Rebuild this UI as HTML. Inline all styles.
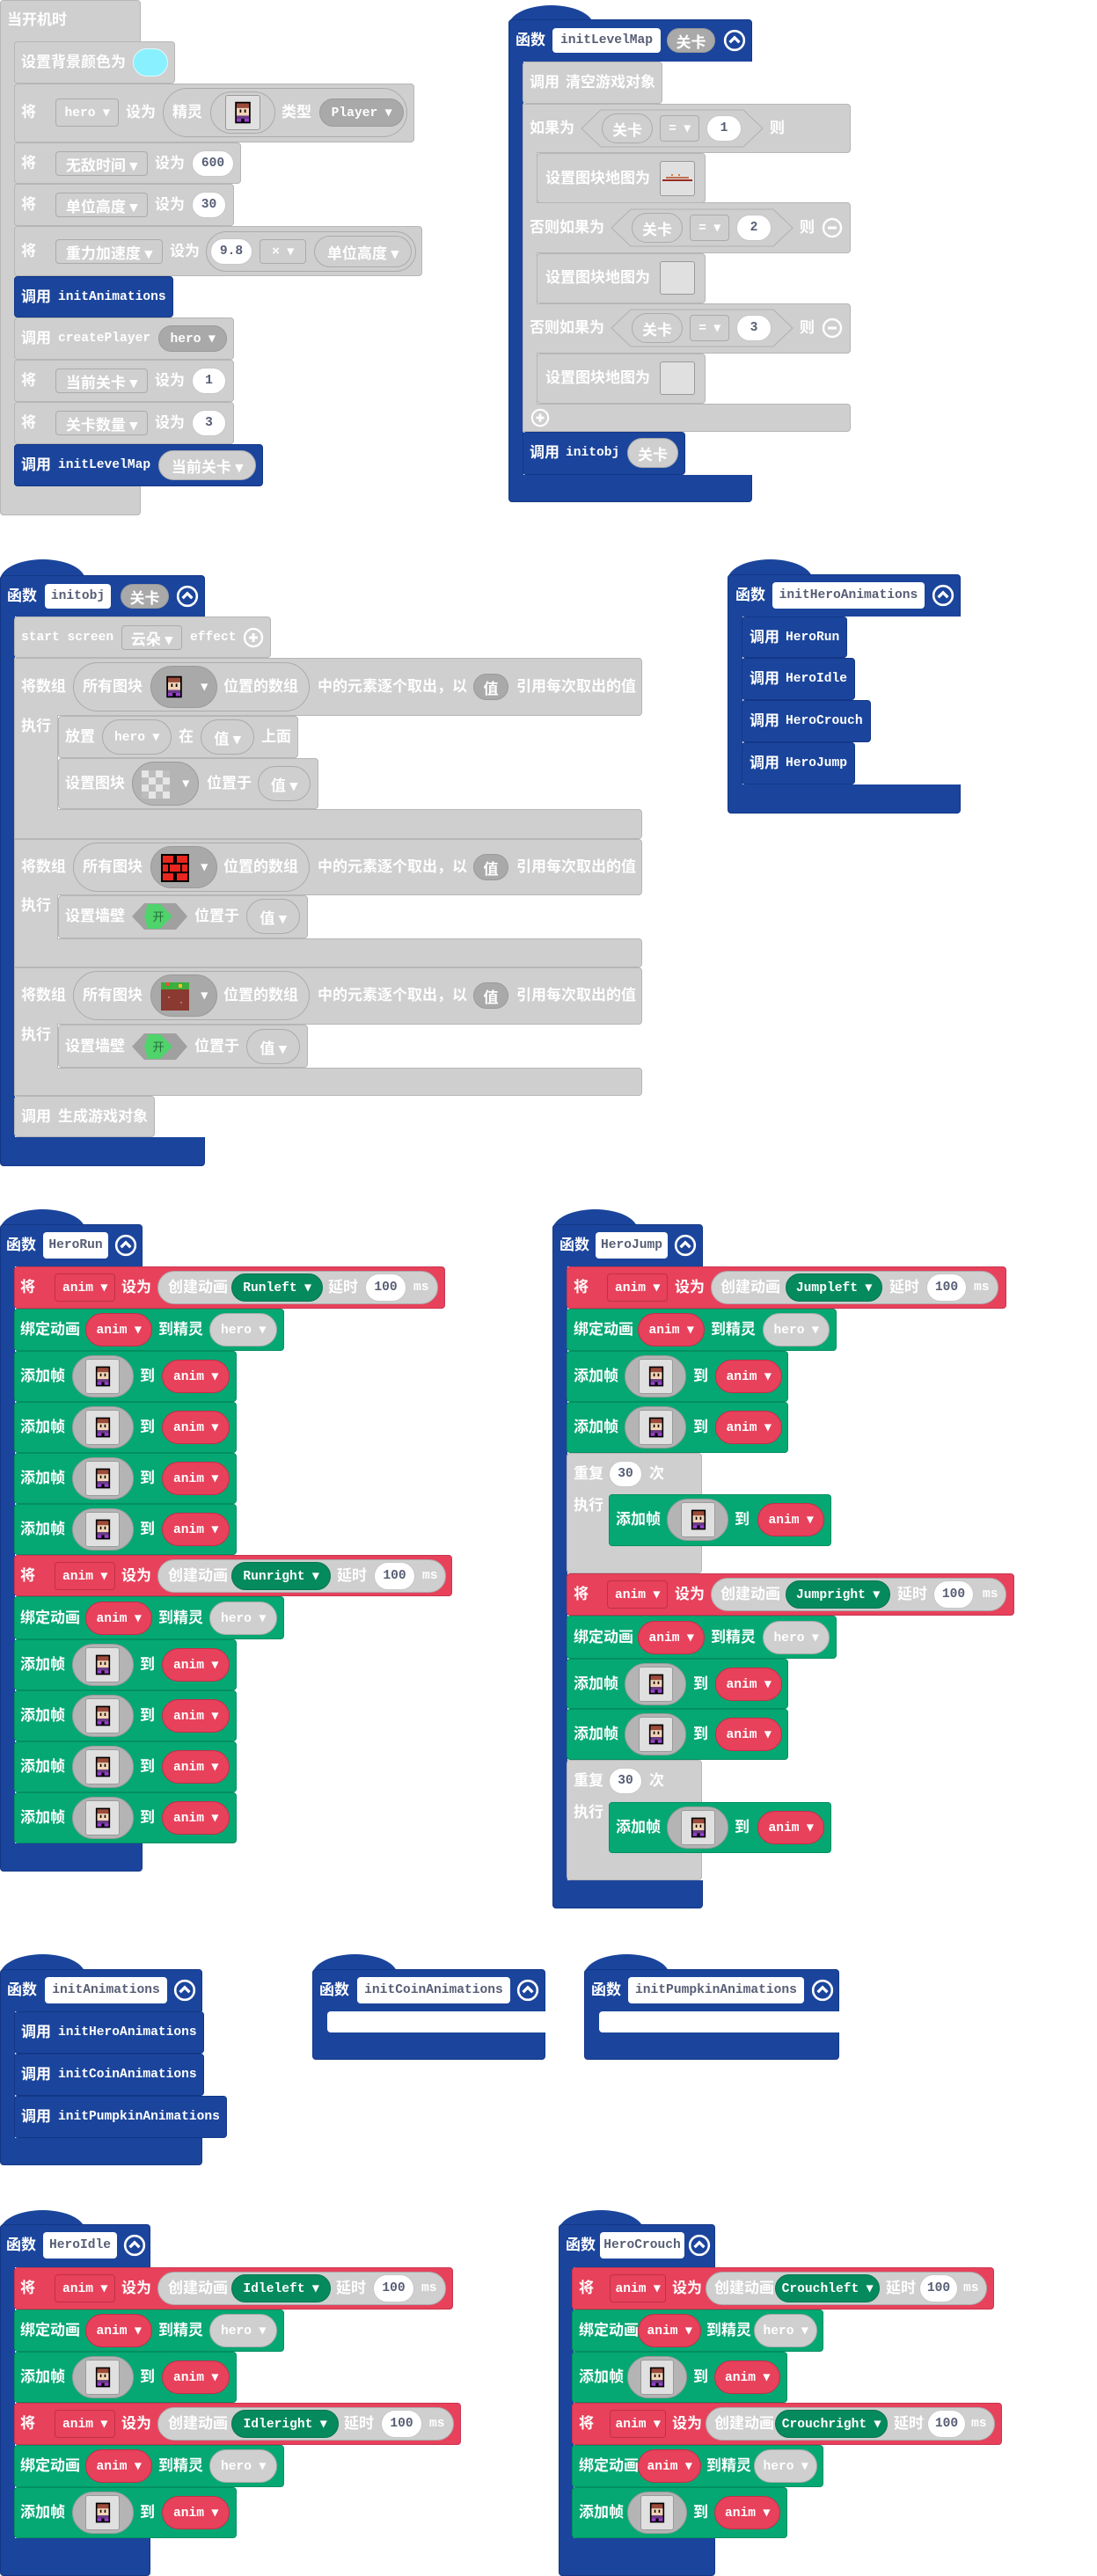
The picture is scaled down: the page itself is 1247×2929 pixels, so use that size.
<!DOCTYPE html>
<html><head><meta charset="utf-8">
<style>
body{margin:0;width:1247px;height:2918px;position:relative;background:#fff;overflow:hidden}
.a{position:absolute;box-sizing:border-box}
.g{background:#cfcfcf;border:1px solid #b6b6b6;border-radius:4px}
.b{background:#1b459c;border:1px solid #123787;border-radius:4px}
.rd{background:#e8415b;border:1px solid #c93550;border-radius:4px}
.gn{background:#05a873;border:1px solid #038f60;border-radius:4px}
.hat{position:absolute;background:#1b459c;border-radius:50% 50% 0 0/100% 100% 0 0;width:97px;height:24px}
.t{position:absolute;color:#fff;font:bold 17px/22px "Liberation Sans","Noto Sans CJK SC",sans-serif;white-space:nowrap;transform:translateY(-50%)}
.m{font:bold 14.6px/22px "Liberation Mono","Noto Sans CJK SC",monospace}
.p{position:absolute;box-sizing:border-box;display:flex;align-items:center;justify-content:center;border-radius:999px;transform:translateY(-50%);color:#fff;font:bold 14.6px "Liberation Mono","Noto Sans CJK SC",monospace;white-space:nowrap}
.c{font:bold 17px "Liberation Sans","Noto Sans CJK SC",sans-serif}
.w{background:#fff;color:#575e75;border:1px solid #c8c8c8}
.dk{background:#a9a9a9;border:1px solid #9a9a9a}
.ol{background:#cfcfcf;border:1px solid #ababab}
.rp{background:#e8415b;border:1px solid #c0304a}
.gp{background:#058a5d;border:1px solid #04754e}
.sq{border-radius:4px}
.nb{background:#fff;color:#575e75;border-radius:4px;border:none}
.img{position:absolute;box-sizing:border-box;background:#e0e0e0;border:1px solid #9a9a9a;border-radius:3px;transform:translateY(-50%)}
.img svg{position:absolute;left:50%;top:50%;transform:translate(-50%,-50%)}
.cc{position:absolute;transform:translate(-50%,-50%)}
</style></head><body>
<svg width="0" height="0" style="position:absolute">
<defs>
<symbol id="hr" viewBox="0 0 16 16"><rect x="3" y="1" width="10" height="14" fill="#000"/><rect x="4" y="2" width="8" height="3" fill="#9c4a3a"/><rect x="4" y="5" width="8" height="5" fill="#f2d3b6"/><rect x="6" y="6" width="1" height="2" fill="#000"/><rect x="9" y="6" width="1" height="2" fill="#000"/><rect x="4" y="10" width="8" height="2" fill="#6a3a8a"/><rect x="4" y="12" width="3" height="2" fill="#9b3fd0"/><rect x="9" y="12" width="3" height="2" fill="#9b3fd0"/></symbol>
<symbol id="ck" viewBox="0 0 16 16"><rect width="16" height="16" fill="#bdbdbd"/><rect x="0" y="0" width="4" height="4" fill="#e6e6e6"/><rect x="8" y="0" width="4" height="4" fill="#e6e6e6"/><rect x="4" y="4" width="4" height="4" fill="#e6e6e6"/><rect x="12" y="4" width="4" height="4" fill="#e6e6e6"/><rect x="0" y="8" width="4" height="4" fill="#e6e6e6"/><rect x="8" y="8" width="4" height="4" fill="#e6e6e6"/><rect x="4" y="12" width="4" height="4" fill="#e6e6e6"/><rect x="12" y="12" width="4" height="4" fill="#e6e6e6"/></symbol>
<symbol id="br" viewBox="0 0 16 16"><rect width="16" height="16" fill="#000"/><rect x="1" y="1" width="6" height="4" fill="#e8261e"/><rect x="9" y="1" width="6" height="4" fill="#e8261e"/><rect x="1" y="6" width="3" height="4" fill="#e8261e"/><rect x="5" y="6" width="6" height="4" fill="#e8261e"/><rect x="12" y="6" width="3" height="4" fill="#e8261e"/><rect x="1" y="11" width="6" height="4" fill="#e8261e"/><rect x="9" y="11" width="6" height="4" fill="#e8261e"/></symbol>
<symbol id="dt" viewBox="0 0 16 16"><rect width="16" height="16" fill="#8a3a30"/><rect y="0" width="16" height="4" fill="#3cae3c"/><rect x="3" y="0" width="2" height="2" fill="#e8503c"/><rect x="10" y="1" width="2" height="2" fill="#f0c030"/><rect x="4" y="8" width="1" height="1" fill="#c07060"/><rect x="11" y="11" width="1" height="1" fill="#c07060"/></symbol>
<symbol id="col" viewBox="0 0 24 24"><circle cx="12" cy="12" r="10" fill="none" stroke="#fff" stroke-width="2.4"/><polyline points="7,14 12,9 17,14" fill="none" stroke="#fff" stroke-width="3"/></symbol>
<symbol id="mn" viewBox="0 0 24 24"><circle cx="12" cy="12" r="10" fill="none" stroke="#fff" stroke-width="2.4"/><line x1="7" y1="12" x2="17" y2="12" stroke="#fff" stroke-width="3"/></symbol>
<symbol id="pl" viewBox="0 0 24 24"><circle cx="12" cy="12" r="10" fill="none" stroke="#fff" stroke-width="2.4"/><line x1="7" y1="12" x2="17" y2="12" stroke="#fff" stroke-width="3"/><line x1="12" y1="7" x2="12" y2="17" stroke="#fff" stroke-width="3"/></symbol>
</defs></svg>

<!-- ===== 当开机时 ===== -->
<div class="a g" style="left:0;top:0;width:160px;height:586px"></div>
<span class="t" style="left:8px;top:23px">当开机时</span>
<div class="a g" style="left:16px;top:47px;width:183px;height:48px"></div>
<span class="t" style="left:24px;top:71px">设置背景颜色为</span>
<div class="p" style="left:151px;top:71px;width:40px;height:32px;background:#88f0ff;border:1px solid #e0f8ff"></div>

<div class="a g" style="left:16px;top:95px;width:455px;height:67px"></div>
<span class="t" style="left:24px;top:128px">将</span>
<div class="p ol sq" style="left:63px;top:128px;width:72px;height:32px">hero ▾</div>
<span class="t" style="left:143px;top:128px">设为</span>
<div class="p ol" style="left:185px;top:128px;width:278px;height:56px"></div>
<span class="t" style="left:196px;top:128px">精灵</span>
<div class="p ol" style="left:239px;top:128px;width:74px;height:48px"></div>
<div class="img" style="left:256px;top:128px;width:40px;height:40px"><svg width="28" height="28"><use href="#hr"/></svg></div>
<span class="t" style="left:320px;top:128px">类型</span>
<div class="p dk" style="left:363px;top:128px;width:96px;height:32px">Player ▾</div>

<div class="a g" style="left:16px;top:162px;width:258px;height:47px"></div>
<span class="t" style="left:24px;top:186px">将</span>
<div class="p ol sq c" style="left:63px;top:186px;width:105px;height:28px">无敌时间 ▾</div>
<span class="t" style="left:176px;top:186px">设为</span>
<div class="p w" style="left:218px;top:186px;width:48px;height:30px">600</div>

<div class="a g" style="left:16px;top:209px;width:250px;height:48px"></div>
<span class="t" style="left:24px;top:233px">将</span>
<div class="p ol sq c" style="left:63px;top:233px;width:105px;height:28px">单位高度 ▾</div>
<span class="t" style="left:176px;top:233px">设为</span>
<div class="p w" style="left:218px;top:233px;width:39px;height:30px">30</div>

<div class="a g" style="left:16px;top:257px;width:464px;height:57px"></div>
<span class="t" style="left:24px;top:286px">将</span>
<div class="p ol sq c" style="left:63px;top:286px;width:122px;height:28px">重力加速度 ▾</div>
<span class="t" style="left:193px;top:286px">设为</span>
<div class="p ol" style="left:234px;top:286px;width:239px;height:46px"></div>
<div class="p w" style="left:239px;top:286px;width:48px;height:30px">9.8</div>
<div class="p ol sq" style="left:295px;top:286px;width:53px;height:28px">× ▾</div>
<div class="p ol c" style="left:357px;top:286px;width:111px;height:36px">单位高度 ▾</div>

<div class="a b" style="left:16px;top:314px;width:181px;height:47px"></div>
<span class="t" style="left:24px;top:338px">调用</span><span class="t m" style="left:66px;top:338px">initAnimations</span>

<div class="a g" style="left:16px;top:361px;width:250px;height:48px"></div>
<span class="t" style="left:24px;top:385px">调用</span><span class="t m" style="left:66px;top:385px">createPlayer</span>
<div class="p dk" style="left:180px;top:385px;width:78px;height:30px">hero ▾</div>

<div class="a g" style="left:16px;top:409px;width:250px;height:48px"></div>
<span class="t" style="left:24px;top:433px">将</span>
<div class="p ol sq c" style="left:63px;top:433px;width:105px;height:28px">当前关卡 ▾</div>
<span class="t" style="left:176px;top:433px">设为</span>
<div class="p w" style="left:218px;top:433px;width:39px;height:30px">1</div>

<div class="a g" style="left:16px;top:457px;width:250px;height:48px"></div>
<span class="t" style="left:24px;top:481px">将</span>
<div class="p ol sq c" style="left:63px;top:481px;width:105px;height:28px">关卡数量 ▾</div>
<span class="t" style="left:176px;top:481px">设为</span>
<div class="p w" style="left:218px;top:481px;width:39px;height:30px">3</div>

<div class="a b" style="left:16px;top:505px;width:283px;height:48px"></div>
<span class="t" style="left:24px;top:529px">调用</span><span class="t m" style="left:66px;top:529px">initLevelMap</span>
<div class="p ol c" style="left:180px;top:529px;width:111px;height:34px">当前关卡 ▾</div>

<!-- ===== initLevelMap ===== -->
<div class="hat" style="left:578px;top:6px"></div>
<div class="a b" style="left:578px;top:22px;width:277px;height:549px"></div>
<div class="a" style="left:595px;top:70px;width:261px;height:470px;background:#fff"></div>
<span class="t" style="left:586px;top:46px">函数</span>
<div class="p nb m" style="left:628px;top:46px;width:123px;height:28px">initLevelMap</div>
<div class="p dk c" style="left:758px;top:46px;width:55px;height:28px">关卡</div>
<svg class="cc" style="left:835px;top:46px" width="26" height="26"><use href="#col"/></svg>

<div class="a g" style="left:594px;top:70px;width:159px;height:48px"></div>
<span class="t" style="left:602px;top:94px">调用</span><span class="t" style="left:643px;top:94px">清空游戏对象</span>

<div class="a g" style="left:594px;top:118px;width:17px;height:373px;border-radius:0"></div>
<div class="a g" style="left:594px;top:118px;width:373px;height:56px"></div>
<div class="a g" style="left:594px;top:230px;width:373px;height:58px"></div>
<div class="a g" style="left:594px;top:345px;width:373px;height:57px"></div>
<div class="a g" style="left:594px;top:459px;width:373px;height:32px"></div>
<div class="a" style="left:595px;top:119px;width:15px;height:371px;background:#cfcfcf"></div>

<span class="t" style="left:602px;top:146px">如果为</span>
<svg class="a" style="left:660px;top:124px" width="208" height="44"><polygon points="1,22 23,1 185,1 207,22 185,43 23,43" fill="#cfcfcf" stroke="#b0b0b0"/></svg>
<div class="p ol c" style="left:684px;top:146px;width:58px;height:34px">关卡</div>
<div class="p ol sq" style="left:750px;top:146px;width:45px;height:30px">= ▾</div>
<div class="p w" style="left:803px;top:146px;width:40px;height:30px">1</div>
<span class="t" style="left:875px;top:146px">则</span>

<div class="a g" style="left:610px;top:174px;width:192px;height:57px"></div>
<span class="t" style="left:620px;top:203px">设置图块地图为</span>
<div class="img" style="left:750px;top:203px;width:40px;height:40px"><svg width="34" height="10" viewBox="0 0 34 10"><rect x="0" y="6" width="34" height="2" fill="#9c2a20"/><rect x="4" y="3" width="26" height="2" fill="#c07050"/><rect x="10" y="0" width="2" height="2" fill="#d08040"/><rect x="18" y="0" width="2" height="2" fill="#d08040"/></svg></div>

<span class="t" style="left:602px;top:259px">否则如果为</span>
<svg class="a" style="left:694px;top:237px" width="208" height="44"><polygon points="1,22 23,1 185,1 207,22 185,43 23,43" fill="#cfcfcf" stroke="#b0b0b0"/></svg>
<div class="p ol c" style="left:718px;top:259px;width:58px;height:34px">关卡</div>
<div class="p ol sq" style="left:784px;top:259px;width:45px;height:30px">= ▾</div>
<div class="p w" style="left:837px;top:259px;width:40px;height:30px">2</div>
<span class="t" style="left:909px;top:259px">则</span>
<svg class="cc" style="left:946px;top:259px" width="24" height="24"><use href="#mn"/></svg>

<div class="a g" style="left:610px;top:288px;width:192px;height:57px"></div>
<span class="t" style="left:620px;top:316px">设置图块地图为</span>
<div class="img" style="left:750px;top:316px;width:40px;height:38px"></div>

<span class="t" style="left:602px;top:373px">否则如果为</span>
<svg class="a" style="left:694px;top:351px" width="208" height="44"><polygon points="1,22 23,1 185,1 207,22 185,43 23,43" fill="#cfcfcf" stroke="#b0b0b0"/></svg>
<div class="p ol c" style="left:718px;top:373px;width:58px;height:34px">关卡</div>
<div class="p ol sq" style="left:784px;top:373px;width:45px;height:30px">= ▾</div>
<div class="p w" style="left:837px;top:373px;width:40px;height:30px">3</div>
<span class="t" style="left:909px;top:373px">则</span>
<svg class="cc" style="left:946px;top:373px" width="24" height="24"><use href="#mn"/></svg>

<div class="a g" style="left:610px;top:402px;width:192px;height:57px"></div>
<span class="t" style="left:620px;top:430px">设置图块地图为</span>
<div class="img" style="left:750px;top:430px;width:40px;height:38px"></div>
<svg class="cc" style="left:614px;top:475px" width="22" height="22"><use href="#pl"/></svg>

<div class="a b" style="left:594px;top:491px;width:185px;height:49px"></div>
<span class="t" style="left:602px;top:515px">调用</span><span class="t m" style="left:643px;top:515px">initobj</span>
<div class="p ol c" style="left:713px;top:515px;width:58px;height:34px">关卡</div>

<!-- ===== initobj ===== -->
<div class="hat" style="left:0;top:636px"></div>
<div class="a b" style="left:0;top:654px;width:233px;height:672px"></div>
<div class="a" style="left:17px;top:701px;width:217px;height:592px;background:#fff"></div>
<span class="t" style="left:8px;top:678px">函数</span>
<div class="p nb m" style="left:51px;top:678px;width:75px;height:28px">initobj</div>
<div class="p dk c" style="left:137px;top:678px;width:55px;height:28px">关卡</div>
<svg class="cc" style="left:213px;top:678px" width="26" height="26"><use href="#col"/></svg>

<div class="a g" style="left:16px;top:701px;width:292px;height:47px"></div>
<span class="t m" style="left:24px;top:725px">start screen</span>
<div class="p ol sq c" style="left:138px;top:725px;width:69px;height:28px">云朵 ▾</div>
<span class="t m" style="left:216px;top:725px">effect</span>
<svg class="cc" style="left:288px;top:725px" width="24" height="24"><use href="#pl"/></svg>

<!-- foreach 1 -->
<div class="a g" style="left:16px;top:748px;width:50px;height:206px;border-radius:0"></div>
<div class="a g" style="left:16px;top:748px;width:714px;height:66px"></div>
<div class="a g" style="left:16px;top:920px;width:714px;height:34px"></div>
<div class="a" style="left:17px;top:749px;width:48px;height:204px;background:#cfcfcf"></div>
<span class="t" style="left:24px;top:781px">将数组</span>
<div class="p ol" style="left:83px;top:781px;width:269px;height:56px"></div>
<span class="t" style="left:94px;top:781px">所有图块</span>
<div class="p dk" style="left:171px;top:781px;width:76px;height:48px;justify-content:flex-end;padding-right:10px">▾</div>
<svg class="a" style="left:184px;top:767px" width="28" height="28"><use href="#hr"/></svg>
<span class="t" style="left:254px;top:781px">位置的数组</span>
<span class="t" style="left:361px;top:781px">中的元素逐个取出，以</span>
<div class="p dk c" style="left:538px;top:781px;width:40px;height:30px">值</div>
<span class="t" style="left:587px;top:781px">引用每次取出的值</span>
<span class="t" style="left:24px;top:826px">执行</span>
<div class="a g" style="left:66px;top:814px;width:273px;height:48px"></div>
<span class="t" style="left:74px;top:838px">放置</span>
<div class="p ol" style="left:116px;top:838px;width:79px;height:40px">hero ▾</div>
<span class="t" style="left:203px;top:838px">在</span>
<div class="p ol c" style="left:228px;top:838px;width:61px;height:40px">值 ▾</div>
<span class="t" style="left:297px;top:838px">上面</span>
<div class="a g" style="left:66px;top:862px;width:296px;height:58px"></div>
<span class="t" style="left:74px;top:891px">设置图块</span>
<div class="p dk" style="left:150px;top:891px;width:76px;height:50px;justify-content:flex-end;padding-right:10px;background:#b4b4b4">▾</div>
<svg class="a" style="left:161px;top:876px" width="32" height="32"><use href="#ck"/></svg>
<span class="t" style="left:235px;top:891px">位置于</span>
<div class="p ol c" style="left:293px;top:891px;width:60px;height:40px">值 ▾</div>

<!-- foreach 2 -->
<div class="a g" style="left:16px;top:954px;width:50px;height:146px;border-radius:0"></div>
<div class="a g" style="left:16px;top:954px;width:714px;height:64px"></div>
<div class="a g" style="left:16px;top:1067px;width:714px;height:33px"></div>
<div class="a" style="left:17px;top:955px;width:48px;height:144px;background:#cfcfcf"></div>
<span class="t" style="left:24px;top:986px">将数组</span>
<div class="p ol" style="left:83px;top:986px;width:269px;height:56px"></div>
<span class="t" style="left:94px;top:986px">所有图块</span>
<div class="p dk" style="left:171px;top:986px;width:76px;height:48px;justify-content:flex-end;padding-right:10px">▾</div>
<svg class="a" style="left:183px;top:971px" width="32" height="32"><use href="#br"/></svg>
<span class="t" style="left:254px;top:986px">位置的数组</span>
<span class="t" style="left:361px;top:986px">中的元素逐个取出，以</span>
<div class="p dk c" style="left:538px;top:986px;width:40px;height:30px">值</div>
<span class="t" style="left:587px;top:986px">引用每次取出的值</span>
<span class="t" style="left:24px;top:1030px">执行</span>
<div class="a g" style="left:66px;top:1018px;width:284px;height:49px"></div>
<span class="t" style="left:74px;top:1042px">设置墙壁</span>
<svg class="a" style="left:150px;top:1026px" width="64" height="32"><polygon points="0,16 14,1 50,1 63,16 50,31 14,31" fill="#a0a0a0"/><polygon points="32,2 46,16 32,30 18,30 14,16 18,2" fill="#4fd36b"/><text x="30" y="21" font-size="13" font-family="Noto Sans CJK SC,sans-serif" fill="#2a6a3a" text-anchor="middle">开</text></svg>
<span class="t" style="left:221px;top:1042px">位置于</span>
<div class="p ol c" style="left:280px;top:1042px;width:61px;height:40px">值 ▾</div>

<!-- foreach 3 -->
<div class="a g" style="left:16px;top:1100px;width:50px;height:146px;border-radius:0"></div>
<div class="a g" style="left:16px;top:1100px;width:714px;height:65px"></div>
<div class="a g" style="left:16px;top:1214px;width:714px;height:32px"></div>
<div class="a" style="left:17px;top:1101px;width:48px;height:144px;background:#cfcfcf"></div>
<span class="t" style="left:24px;top:1132px">将数组</span>
<div class="p ol" style="left:83px;top:1132px;width:269px;height:56px"></div>
<span class="t" style="left:94px;top:1132px">所有图块</span>
<div class="p dk" style="left:171px;top:1132px;width:76px;height:48px;justify-content:flex-end;padding-right:10px">▾</div>
<svg class="a" style="left:183px;top:1117px" width="32" height="32"><use href="#dt"/></svg>
<span class="t" style="left:254px;top:1132px">位置的数组</span>
<span class="t" style="left:361px;top:1132px">中的元素逐个取出，以</span>
<div class="p dk c" style="left:538px;top:1132px;width:40px;height:30px">值</div>
<span class="t" style="left:587px;top:1132px">引用每次取出的值</span>
<span class="t" style="left:24px;top:1177px">执行</span>
<div class="a g" style="left:66px;top:1165px;width:284px;height:49px"></div>
<span class="t" style="left:74px;top:1190px">设置墙壁</span>
<svg class="a" style="left:150px;top:1174px" width="64" height="32"><polygon points="0,16 14,1 50,1 63,16 50,31 14,31" fill="#a0a0a0"/><polygon points="32,2 46,16 32,30 18,30 14,16 18,2" fill="#4fd36b"/><text x="30" y="21" font-size="13" font-family="Noto Sans CJK SC,sans-serif" fill="#2a6a3a" text-anchor="middle">开</text></svg>
<span class="t" style="left:221px;top:1190px">位置于</span>
<div class="p ol c" style="left:280px;top:1190px;width:61px;height:40px">值 ▾</div>

<div class="a g" style="left:16px;top:1246px;width:160px;height:47px"></div>
<span class="t" style="left:24px;top:1270px">调用</span><span class="t" style="left:66px;top:1270px">生成游戏对象</span>

<!-- ===== initHeroAnimations ===== -->
<div class="hat" style="left:827px;top:636px"></div>
<div class="a b" style="left:827px;top:653px;width:265px;height:272px"></div>
<div class="a" style="left:844px;top:701px;width:249px;height:191px;background:#fff"></div>
<span class="t" style="left:836px;top:677px">函数</span>
<div class="p nb m" style="left:878px;top:677px;width:173px;height:30px">initHeroAnimations</div>
<svg class="cc" style="left:1072px;top:677px" width="26" height="26"><use href="#col"/></svg>
<div class="a b" style="left:843px;top:701px;width:120px;height:47px"></div>
<span class="t" style="left:852px;top:725px">调用</span><span class="t m" style="left:893px;top:725px">HeroRun</span>
<div class="a b" style="left:843px;top:748px;width:129px;height:48px"></div>
<span class="t" style="left:852px;top:772px">调用</span><span class="t m" style="left:893px;top:772px">HeroIdle</span>
<div class="a b" style="left:843px;top:796px;width:147px;height:48px"></div>
<span class="t" style="left:852px;top:820px">调用</span><span class="t m" style="left:893px;top:820px">HeroCrouch</span>
<div class="a b" style="left:843px;top:844px;width:129px;height:48px"></div>
<span class="t" style="left:852px;top:868px">调用</span><span class="t m" style="left:893px;top:868px">HeroJump</span>

<!-- ===== HeroRun ===== -->
<div class="hat" style="left:0;top:1375px"></div>
<div class="a b" style="left:0;top:1392px;width:162px;height:736px"></div>
<div class="a" style="left:17px;top:1440px;width:146px;height:656px;background:#fff"></div>
<span class="t" style="left:7px;top:1416px">函数</span>
<div class="p nb m" style="left:49px;top:1416px;width:74px;height:30px">HeroRun</div>
<svg class="cc" style="left:143px;top:1416px" width="26" height="26"><use href="#col"/></svg>

<div class="a rd" style="left:16px;top:1440px;width:490px;height:48px"></div>
<span class="t" style="left:23px;top:1464px">将</span>
<div class="p rp sq" style="left:62px;top:1464px;width:69px;height:32px">anim ▾</div>
<span class="t" style="left:138px;top:1464px">设为</span>
<div class="p ol" style="left:179px;top:1464px;width:319px;height:38px"></div>
<span class="t" style="left:191px;top:1464px">创建动画</span>
<div class="p gp" style="left:263px;top:1464px;width:104px;height:32px">Runleft ▾</div>
<span class="t" style="left:373px;top:1464px">延时</span>
<div class="p w" style="left:415px;top:1464px;width:47px;height:32px">100</div>
<span class="t m" style="left:470px;top:1464px">ms</span>

<div class="a gn" style="left:16px;top:1488px;width:307px;height:48px"></div>
<span class="t" style="left:23px;top:1512px">绑定动画</span>
<div class="p rp" style="left:97px;top:1512px;width:76px;height:38px">anim ▾</div>
<span class="t" style="left:180px;top:1512px">到精灵</span>
<div class="p ol" style="left:238px;top:1512px;width:77px;height:38px">hero ▾</div>

<div class="a gn" style="left:16px;top:1536px;width:253px;height:58px"></div>
<span class="t" style="left:23px;top:1565px">添加帧</span>
<div class="p dk" style="left:82px;top:1565px;width:70px;height:48px;background:#b4b4b4"></div>
<div class="img" style="left:97px;top:1565px;width:39px;height:40px"><svg width="26" height="26"><use href="#hr"/></svg></div>
<span class="t" style="left:159px;top:1565px">到</span>
<div class="p rp" style="left:184px;top:1565px;width:77px;height:38px">anim ▾</div>

<div class="a gn" style="left:16px;top:1594px;width:253px;height:58px"></div>
<span class="t" style="left:23px;top:1623px">添加帧</span>
<div class="p dk" style="left:82px;top:1623px;width:70px;height:48px;background:#b4b4b4"></div>
<div class="img" style="left:97px;top:1623px;width:39px;height:40px"><svg width="26" height="26"><use href="#hr"/></svg></div>
<span class="t" style="left:159px;top:1623px">到</span>
<div class="p rp" style="left:184px;top:1623px;width:77px;height:38px">anim ▾</div>

<div class="a gn" style="left:16px;top:1652px;width:253px;height:58px"></div>
<span class="t" style="left:23px;top:1681px">添加帧</span>
<div class="p dk" style="left:82px;top:1681px;width:70px;height:48px;background:#b4b4b4"></div>
<div class="img" style="left:97px;top:1681px;width:39px;height:40px"><svg width="26" height="26"><use href="#hr"/></svg></div>
<span class="t" style="left:159px;top:1681px">到</span>
<div class="p rp" style="left:184px;top:1681px;width:77px;height:38px">anim ▾</div>

<div class="a gn" style="left:16px;top:1710px;width:253px;height:58px"></div>
<span class="t" style="left:23px;top:1739px">添加帧</span>
<div class="p dk" style="left:82px;top:1739px;width:70px;height:48px;background:#b4b4b4"></div>
<div class="img" style="left:97px;top:1739px;width:39px;height:40px"><svg width="26" height="26"><use href="#hr"/></svg></div>
<span class="t" style="left:159px;top:1739px">到</span>
<div class="p rp" style="left:184px;top:1739px;width:77px;height:38px">anim ▾</div>

<div class="a rd" style="left:16px;top:1768px;width:498px;height:47px"></div>
<span class="t" style="left:23px;top:1792px">将</span>
<div class="p rp sq" style="left:62px;top:1792px;width:69px;height:32px">anim ▾</div>
<span class="t" style="left:138px;top:1792px">设为</span>
<div class="p ol" style="left:179px;top:1792px;width:328px;height:38px"></div>
<span class="t" style="left:191px;top:1792px">创建动画</span>
<div class="p gp" style="left:263px;top:1792px;width:113px;height:32px">Runright ▾</div>
<span class="t" style="left:383px;top:1792px">延时</span>
<div class="p w" style="left:425px;top:1792px;width:47px;height:32px">100</div>
<span class="t m" style="left:480px;top:1792px">ms</span>

<div class="a gn" style="left:16px;top:1815px;width:307px;height:49px"></div>
<span class="t" style="left:23px;top:1840px">绑定动画</span>
<div class="p rp" style="left:97px;top:1840px;width:76px;height:38px">anim ▾</div>
<span class="t" style="left:180px;top:1840px">到精灵</span>
<div class="p ol" style="left:238px;top:1840px;width:77px;height:38px">hero ▾</div>

<div class="a gn" style="left:16px;top:1864px;width:253px;height:58px"></div>
<span class="t" style="left:23px;top:1893px">添加帧</span>
<div class="p dk" style="left:82px;top:1893px;width:70px;height:48px;background:#b4b4b4"></div>
<div class="img" style="left:97px;top:1893px;width:39px;height:40px"><svg width="26" height="26"><use href="#hr"/></svg></div>
<span class="t" style="left:159px;top:1893px">到</span>
<div class="p rp" style="left:184px;top:1893px;width:77px;height:38px">anim ▾</div>

<div class="a gn" style="left:16px;top:1922px;width:253px;height:58px"></div>
<span class="t" style="left:23px;top:1951px">添加帧</span>
<div class="p dk" style="left:82px;top:1951px;width:70px;height:48px;background:#b4b4b4"></div>
<div class="img" style="left:97px;top:1951px;width:39px;height:40px"><svg width="26" height="26"><use href="#hr"/></svg></div>
<span class="t" style="left:159px;top:1951px">到</span>
<div class="p rp" style="left:184px;top:1951px;width:77px;height:38px">anim ▾</div>

<div class="a gn" style="left:16px;top:1980px;width:253px;height:58px"></div>
<span class="t" style="left:23px;top:2009px">添加帧</span>
<div class="p dk" style="left:82px;top:2009px;width:70px;height:48px;background:#b4b4b4"></div>
<div class="img" style="left:97px;top:2009px;width:39px;height:40px"><svg width="26" height="26"><use href="#hr"/></svg></div>
<span class="t" style="left:159px;top:2009px">到</span>
<div class="p rp" style="left:184px;top:2009px;width:77px;height:38px">anim ▾</div>

<div class="a gn" style="left:16px;top:2038px;width:253px;height:58px"></div>
<span class="t" style="left:23px;top:2067px">添加帧</span>
<div class="p dk" style="left:82px;top:2067px;width:70px;height:48px;background:#b4b4b4"></div>
<div class="img" style="left:97px;top:2067px;width:39px;height:40px"><svg width="26" height="26"><use href="#hr"/></svg></div>
<span class="t" style="left:159px;top:2067px">到</span>
<div class="p rp" style="left:184px;top:2067px;width:77px;height:38px">anim ▾</div>

<!-- ===== HeroJump ===== -->
<div class="hat" style="left:628px;top:1375px"></div>
<div class="a b" style="left:628px;top:1392px;width:171px;height:778px"></div>
<div class="a" style="left:645px;top:1440px;width:155px;height:698px;background:#fff"></div>
<span class="t" style="left:636px;top:1416px">函数</span>
<div class="p nb m" style="left:677px;top:1416px;width:82px;height:30px">HeroJump</div>
<svg class="cc" style="left:779px;top:1416px" width="26" height="26"><use href="#col"/></svg>

<div class="a rd" style="left:644px;top:1440px;width:500px;height:48px"></div>
<span class="t" style="left:652px;top:1464px">将</span>
<div class="p rp sq" style="left:690px;top:1464px;width:69px;height:32px">anim ▾</div>
<span class="t" style="left:767px;top:1464px">设为</span>
<div class="p ol" style="left:808px;top:1464px;width:327px;height:38px"></div>
<span class="t" style="left:819px;top:1464px">创建动画</span>
<div class="p gp" style="left:893px;top:1464px;width:110px;height:32px">Jumpleft ▾</div>
<span class="t" style="left:1011px;top:1464px">延时</span>
<div class="p w" style="left:1053px;top:1464px;width:46px;height:32px">100</div>
<span class="t m" style="left:1107px;top:1464px">ms</span>

<div class="a gn" style="left:644px;top:1488px;width:307px;height:48px"></div>
<span class="t" style="left:652px;top:1512px">绑定动画</span>
<div class="p rp" style="left:725px;top:1512px;width:76px;height:38px">anim ▾</div>
<span class="t" style="left:808px;top:1512px">到精灵</span>
<div class="p ol" style="left:867px;top:1512px;width:76px;height:38px">hero ▾</div>

<div class="a gn" style="left:644px;top:1536px;width:252px;height:58px"></div>
<span class="t" style="left:652px;top:1565px">添加帧</span>
<div class="p dk" style="left:710px;top:1565px;width:70px;height:48px;background:#b4b4b4"></div>
<div class="img" style="left:726px;top:1565px;width:39px;height:40px"><svg width="26" height="26"><use href="#hr"/></svg></div>
<span class="t" style="left:788px;top:1565px">到</span>
<div class="p rp" style="left:813px;top:1565px;width:76px;height:38px">anim ▾</div>

<div class="a gn" style="left:644px;top:1594px;width:252px;height:58px"></div>
<span class="t" style="left:652px;top:1623px">添加帧</span>
<div class="p dk" style="left:710px;top:1623px;width:70px;height:48px;background:#b4b4b4"></div>
<div class="img" style="left:726px;top:1623px;width:39px;height:40px"><svg width="26" height="26"><use href="#hr"/></svg></div>
<span class="t" style="left:788px;top:1623px">到</span>
<div class="p rp" style="left:813px;top:1623px;width:76px;height:38px">anim ▾</div>

<div class="a g" style="left:644px;top:1652px;width:154px;height:137px"></div>
<span class="t" style="left:652px;top:1676px">重复</span>
<div class="p w" style="left:692px;top:1676px;width:38px;height:30px">30</div>
<span class="t" style="left:738px;top:1676px">次</span>
<span class="t" style="left:652px;top:1712px">执行</span>
<div class="a gn" style="left:692px;top:1699px;width:253px;height:59px"></div>
<span class="t" style="left:700px;top:1728px">添加帧</span>
<div class="p dk" style="left:758px;top:1728px;width:70px;height:48px;background:#b4b4b4"></div>
<div class="img" style="left:774px;top:1728px;width:39px;height:40px"><svg width="26" height="26"><use href="#hr"/></svg></div>
<span class="t" style="left:835px;top:1728px">到</span>
<div class="p rp" style="left:861px;top:1728px;width:76px;height:38px">anim ▾</div>

<div class="a rd" style="left:644px;top:1789px;width:509px;height:48px"></div>
<span class="t" style="left:652px;top:1813px">将</span>
<div class="p rp sq" style="left:690px;top:1813px;width:69px;height:32px">anim ▾</div>
<span class="t" style="left:767px;top:1813px">设为</span>
<div class="p ol" style="left:808px;top:1813px;width:336px;height:38px"></div>
<span class="t" style="left:819px;top:1813px">创建动画</span>
<div class="p gp" style="left:893px;top:1813px;width:119px;height:32px">Jumpright ▾</div>
<span class="t" style="left:1020px;top:1813px">延时</span>
<div class="p w" style="left:1061px;top:1813px;width:46px;height:32px">100</div>
<span class="t m" style="left:1117px;top:1813px">ms</span>

<div class="a gn" style="left:644px;top:1837px;width:307px;height:49px"></div>
<span class="t" style="left:652px;top:1862px">绑定动画</span>
<div class="p rp" style="left:725px;top:1862px;width:76px;height:38px">anim ▾</div>
<span class="t" style="left:808px;top:1862px">到精灵</span>
<div class="p ol" style="left:867px;top:1862px;width:76px;height:38px">hero ▾</div>

<div class="a gn" style="left:644px;top:1886px;width:252px;height:57px"></div>
<span class="t" style="left:652px;top:1915px">添加帧</span>
<div class="p dk" style="left:710px;top:1915px;width:70px;height:48px;background:#b4b4b4"></div>
<div class="img" style="left:726px;top:1915px;width:39px;height:40px"><svg width="26" height="26"><use href="#hr"/></svg></div>
<span class="t" style="left:788px;top:1915px">到</span>
<div class="p rp" style="left:813px;top:1915px;width:76px;height:38px">anim ▾</div>

<div class="a gn" style="left:644px;top:1943px;width:252px;height:58px"></div>
<span class="t" style="left:652px;top:1972px">添加帧</span>
<div class="p dk" style="left:710px;top:1972px;width:70px;height:48px;background:#b4b4b4"></div>
<div class="img" style="left:726px;top:1972px;width:39px;height:40px"><svg width="26" height="26"><use href="#hr"/></svg></div>
<span class="t" style="left:788px;top:1972px">到</span>
<div class="p rp" style="left:813px;top:1972px;width:76px;height:38px">anim ▾</div>

<div class="a g" style="left:644px;top:2001px;width:154px;height:137px"></div>
<span class="t" style="left:652px;top:2025px">重复</span>
<div class="p w" style="left:692px;top:2025px;width:38px;height:30px">30</div>
<span class="t" style="left:738px;top:2025px">次</span>
<span class="t" style="left:652px;top:2061px">执行</span>
<div class="a gn" style="left:692px;top:2049px;width:253px;height:58px"></div>
<span class="t" style="left:700px;top:2078px">添加帧</span>
<div class="p dk" style="left:758px;top:2078px;width:70px;height:48px;background:#b4b4b4"></div>
<div class="img" style="left:774px;top:2078px;width:39px;height:40px"><svg width="26" height="26"><use href="#hr"/></svg></div>
<span class="t" style="left:835px;top:2078px">到</span>
<div class="p rp" style="left:861px;top:2078px;width:76px;height:38px">anim ▾</div>

<!-- ===== initAnimations ===== -->
<div class="hat" style="left:0;top:2222px"></div>
<div class="a b" style="left:0;top:2239px;width:230px;height:223px"></div>
<div class="a" style="left:17px;top:2287px;width:214px;height:144px;background:#fff"></div>
<span class="t" style="left:8px;top:2263px">函数</span>
<div class="p nb m" style="left:51px;top:2263px;width:139px;height:30px">initAnimations</div>
<svg class="cc" style="left:210px;top:2263px" width="26" height="26"><use href="#col"/></svg>
<div class="a b" style="left:16px;top:2287px;width:216px;height:48px"></div>
<span class="t" style="left:24px;top:2311px">调用</span><span class="t m" style="left:66px;top:2311px">initHeroAnimations</span>
<div class="a b" style="left:16px;top:2335px;width:216px;height:48px"></div>
<span class="t" style="left:24px;top:2359px">调用</span><span class="t m" style="left:66px;top:2359px">initCoinAnimations</span>
<div class="a b" style="left:16px;top:2383px;width:242px;height:48px"></div>
<span class="t" style="left:24px;top:2407px">调用</span><span class="t m" style="left:66px;top:2407px">initPumpkinAnimations</span>

<!-- ===== initCoinAnimations ===== -->
<div class="hat" style="left:355px;top:2222px"></div>
<div class="a b" style="left:355px;top:2239px;width:265px;height:103px"></div>
<div class="a" style="left:372px;top:2287px;width:249px;height:24px;background:#fff;border-radius:4px 0 0 4px"></div>
<span class="t" style="left:363px;top:2263px">函数</span>
<div class="p nb m" style="left:406px;top:2263px;width:174px;height:30px">initCoinAnimations</div>
<svg class="cc" style="left:600px;top:2263px" width="26" height="26"><use href="#col"/></svg>

<!-- ===== initPumpkinAnimations ===== -->
<div class="hat" style="left:664px;top:2222px"></div>
<div class="a b" style="left:664px;top:2239px;width:290px;height:103px"></div>
<div class="a" style="left:681px;top:2287px;width:274px;height:24px;background:#fff;border-radius:4px 0 0 4px"></div>
<span class="t" style="left:672px;top:2263px">函数</span>
<div class="p nb m" style="left:714px;top:2263px;width:200px;height:30px">initPumpkinAnimations</div>
<svg class="cc" style="left:935px;top:2263px" width="26" height="26"><use href="#col"/></svg>

<!-- ===== HeroIdle ===== -->
<div class="hat" style="left:0;top:2513px"></div>
<div class="a b" style="left:0;top:2529px;width:171px;height:400px"></div>
<div class="a" style="left:17px;top:2578px;width:155px;height:308px;background:#fff"></div>
<span class="t" style="left:7px;top:2553px">函数</span>
<div class="p nb m" style="left:49px;top:2553px;width:84px;height:30px">HeroIdle</div>
<svg class="cc" style="left:153px;top:2553px" width="26" height="26"><use href="#col"/></svg>

<div class="a rd" style="left:16px;top:2578px;width:499px;height:48px"></div>
<span class="t" style="left:23px;top:2602px">将</span>
<div class="p rp sq" style="left:62px;top:2602px;width:69px;height:32px">anim ▾</div>
<span class="t" style="left:138px;top:2602px">设为</span>
<div class="p ol" style="left:179px;top:2602px;width:328px;height:38px"></div>
<span class="t" style="left:191px;top:2602px">创建动画</span>
<div class="p gp" style="left:263px;top:2602px;width:113px;height:32px">Idleleft ▾</div>
<span class="t" style="left:382px;top:2602px">延时</span>
<div class="p w" style="left:424px;top:2602px;width:47px;height:32px">100</div>
<span class="t m" style="left:479px;top:2602px">ms</span>

<div class="a gn" style="left:16px;top:2626px;width:307px;height:48px"></div>
<span class="t" style="left:23px;top:2650px">绑定动画</span>
<div class="p rp" style="left:97px;top:2650px;width:76px;height:38px">anim ▾</div>
<span class="t" style="left:180px;top:2650px">到精灵</span>
<div class="p ol" style="left:238px;top:2650px;width:77px;height:38px">hero ▾</div>

<div class="a gn" style="left:16px;top:2674px;width:253px;height:58px"></div>
<span class="t" style="left:23px;top:2703px">添加帧</span>
<div class="p dk" style="left:82px;top:2703px;width:70px;height:48px;background:#b4b4b4"></div>
<div class="img" style="left:97px;top:2703px;width:39px;height:40px"><svg width="26" height="26"><use href="#hr"/></svg></div>
<span class="t" style="left:159px;top:2703px">到</span>
<div class="p rp" style="left:184px;top:2703px;width:77px;height:38px">anim ▾</div>

<div class="a rd" style="left:16px;top:2732px;width:508px;height:48px"></div>
<span class="t" style="left:23px;top:2756px">将</span>
<div class="p rp sq" style="left:62px;top:2756px;width:69px;height:32px">anim ▾</div>
<span class="t" style="left:138px;top:2756px">设为</span>
<div class="p ol" style="left:179px;top:2756px;width:337px;height:38px"></div>
<span class="t" style="left:191px;top:2756px">创建动画</span>
<div class="p gp" style="left:263px;top:2756px;width:122px;height:32px">Idleright ▾</div>
<span class="t" style="left:391px;top:2756px">延时</span>
<div class="p w" style="left:433px;top:2756px;width:47px;height:32px">100</div>
<span class="t m" style="left:488px;top:2756px">ms</span>

<div class="a gn" style="left:16px;top:2780px;width:307px;height:48px"></div>
<span class="t" style="left:23px;top:2804px">绑定动画</span>
<div class="p rp" style="left:97px;top:2804px;width:76px;height:38px">anim ▾</div>
<span class="t" style="left:180px;top:2804px">到精灵</span>
<div class="p ol" style="left:238px;top:2804px;width:77px;height:38px">hero ▾</div>

<div class="a gn" style="left:16px;top:2828px;width:253px;height:58px"></div>
<span class="t" style="left:23px;top:2857px">添加帧</span>
<div class="p dk" style="left:82px;top:2857px;width:70px;height:48px;background:#b4b4b4"></div>
<div class="img" style="left:97px;top:2857px;width:39px;height:40px"><svg width="26" height="26"><use href="#hr"/></svg></div>
<span class="t" style="left:159px;top:2857px">到</span>
<div class="p rp" style="left:184px;top:2857px;width:77px;height:38px">anim ▾</div>

<!-- ===== HeroCrouch ===== -->
<div class="hat" style="left:635px;top:2513px"></div>
<div class="a b" style="left:635px;top:2529px;width:178px;height:400px"></div>
<div class="a" style="left:652px;top:2578px;width:162px;height:308px;background:#fff"></div>
<span class="t" style="left:643px;top:2553px">函数</span>
<div class="p nb m" style="left:682px;top:2553px;width:96px;height:30px">HeroCrouch</div>
<svg class="cc" style="left:795px;top:2553px" width="26" height="26"><use href="#col"/></svg>

<div class="a rd" style="left:650px;top:2578px;width:480px;height:48px"></div>
<span class="t" style="left:658px;top:2602px">将</span>
<div class="p rp sq" style="left:693px;top:2602px;width:64px;height:32px">anim ▾</div>
<span class="t" style="left:764px;top:2602px">设为</span>
<div class="p ol" style="left:802px;top:2602px;width:320px;height:38px"></div>
<span class="t" style="left:812px;top:2602px">创建动画</span>
<div class="p gp" style="left:881px;top:2602px;width:119px;height:32px">Crouchleft ▾</div>
<span class="t" style="left:1007px;top:2602px">延时</span>
<div class="p w" style="left:1045px;top:2602px;width:44px;height:32px">100</div>
<span class="t m" style="left:1095px;top:2602px">ms</span>

<div class="a gn" style="left:650px;top:2626px;width:286px;height:48px"></div>
<span class="t" style="left:658px;top:2650px">绑定动画</span>
<div class="p rp" style="left:725px;top:2650px;width:72px;height:38px">anim ▾</div>
<span class="t" style="left:803px;top:2650px">到精灵</span>
<div class="p ol" style="left:857px;top:2650px;width:72px;height:38px">hero ▾</div>

<div class="a gn" style="left:650px;top:2674px;width:245px;height:58px"></div>
<span class="t" style="left:658px;top:2703px">添加帧</span>
<div class="p dk" style="left:713px;top:2703px;width:68px;height:48px;background:#b4b4b4"></div>
<div class="img" style="left:728px;top:2703px;width:38px;height:40px"><svg width="26" height="26"><use href="#hr"/></svg></div>
<span class="t" style="left:788px;top:2703px">到</span>
<div class="p rp" style="left:812px;top:2703px;width:75px;height:38px">anim ▾</div>

<div class="a rd" style="left:650px;top:2732px;width:489px;height:48px"></div>
<span class="t" style="left:658px;top:2756px">将</span>
<div class="p rp sq" style="left:693px;top:2756px;width:64px;height:32px">anim ▾</div>
<span class="t" style="left:764px;top:2756px">设为</span>
<div class="p ol" style="left:802px;top:2756px;width:329px;height:38px"></div>
<span class="t" style="left:812px;top:2756px">创建动画</span>
<div class="p gp" style="left:881px;top:2756px;width:128px;height:32px">Crouchright ▾</div>
<span class="t" style="left:1016px;top:2756px">延时</span>
<div class="p w" style="left:1054px;top:2756px;width:44px;height:32px">100</div>
<span class="t m" style="left:1104px;top:2756px">ms</span>

<div class="a gn" style="left:650px;top:2780px;width:286px;height:48px"></div>
<span class="t" style="left:658px;top:2804px">绑定动画</span>
<div class="p rp" style="left:725px;top:2804px;width:72px;height:38px">anim ▾</div>
<span class="t" style="left:803px;top:2804px">到精灵</span>
<div class="p ol" style="left:857px;top:2804px;width:72px;height:38px">hero ▾</div>

<div class="a gn" style="left:650px;top:2828px;width:245px;height:58px"></div>
<span class="t" style="left:658px;top:2857px">添加帧</span>
<div class="p dk" style="left:713px;top:2857px;width:68px;height:48px;background:#b4b4b4"></div>
<div class="img" style="left:728px;top:2857px;width:38px;height:40px"><svg width="26" height="26"><use href="#hr"/></svg></div>
<span class="t" style="left:788px;top:2857px">到</span>
<div class="p rp" style="left:812px;top:2857px;width:75px;height:38px">anim ▾</div>

</body></html>
